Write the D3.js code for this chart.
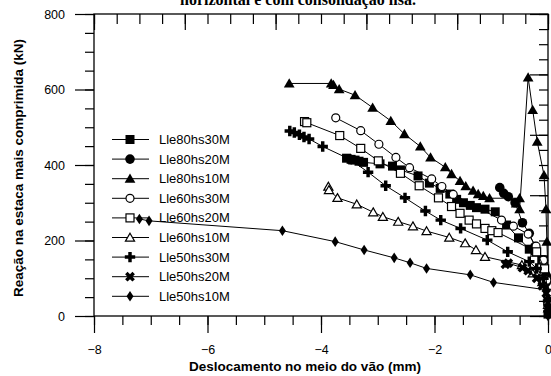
<!DOCTYPE html>
<html>
<head>
<meta charset="utf-8">
<script src="https://cdn.jsdelivr.net/npm/d3@7"></script>
<style>
  body { margin: 0; background: #fff; }
  text { font-family: "Liberation Sans", Arial, sans-serif; }
</style>
</head>
<body>
<div id="chart"></div>
<script>
// values: [deslocamento (mm), reação (kN)]
const lle80hs30M = [[-3.55,418],[-3.47,415],[-3.40,413],[-3.33,410],[-3.25,407],[-2.96,403],[-2.74,397],[-2.60,387],
  [-2.29,371],[-2.09,352],[-1.90,338],[-1.73,323],[-1.61,309],[-1.49,300],[-1.37,293],[-1.26,287],[-1.11,283],
  [-0.93,276],[-0.73,241],[-0.52,207],[-0.33,177],[-0.23,173],[-0.11,148],[-0.04,100],[0,40],[0,5]];
const lle80hs20M = [[-0.85,340],[-0.78,325],[-0.70,316],[-0.58,300],[-0.45,247],[-0.33,219],[-0.23,184],[-0.08,148],
  [-0.03,90],[0,30]];
const lle80hs10M = [[-4.56,616],[-3.82,616],[-3.78,612],[-3.68,601],[-3.40,585],[-3.09,552],[-2.77,517],[-2.53,482],
  [-2.25,449],[-2.07,420],[-1.81,394],[-1.70,376],[-1.55,358],[-1.45,344],[-1.32,332],[-1.23,323],[-1.14,318],
  [-1.03,312],[-0.50,312],[-0.56,298],[-0.50,283],[-0.35,632],[-0.27,546],[-0.19,462],[-0.07,373],[-0.035,283],
  [-0.02,197],[0,110],[0,20]];
const lle60hs30M = [[-3.74,525],[-3.30,491],[-2.98,455],[-2.68,420],[-2.44,393],[-2.05,363],[-1.87,343],[-1.67,322],
  [-0.82,254],[-0.61,238],[-0.35,217],[-0.21,185],[-0.08,148],[-0.02,95],[0,35]];
const lle60hs20M = [[-4.29,515],[-4.25,512],[-3.67,478],[-3.30,444],[-2.99,411],[-2.60,378],[-2.27,345],[-1.93,313],
  [-1.70,290],[-1.55,272],[-1.39,254],[-1.26,244],[-1.11,232],[-0.99,226],[-0.88,221],[-0.20,170],[-0.06,125],[0,60]];
const lle60hs10M = [[-3.87,343],[-3.86,334],[-3.71,313],[-3.37,296],[-3.08,275],[-2.91,263],[-2.64,250],[-2.38,238],
  [-2.14,225],[-1.74,208],[-1.46,193],[-1.27,175],[-1.11,157],[-0.46,135],[-0.27,113],[-0.10,90],[0,30]];
const lle50hs30M = [[-4.55,490],[-4.47,486],[-4.38,480],[-4.30,474],[-4.21,469],[-3.97,449],[-3.49,415],[-3.17,381],
  [-2.86,345],[-2.52,313],[-2.16,278],[-1.89,254],[-1.54,232],[-1.07,201],[-0.71,170],[-0.33,144],[-0.20,126],
  [-0.08,100],[0,40]];
const lle50hs20M = [[-0.75,137],[-0.70,140],[-0.45,128],[-0.35,120],[-0.20,100],[-0.10,80],[-0.03,60],[0,20]];
const lle50hs10M = [[-7.20,257],[-7.03,252],[-4.68,226],[-3.75,197],[-3.24,175],[-2.71,154],[-2.43,141],[-2.14,126],
  [-1.37,109],[-0.96,89],[-0.02,69],[0,30],[0,0]];

const seriesNames = ["Lle80hs30M","Lle80hs20M","Lle80hs10M","Lle60hs30M","Lle60hs20M","Lle60hs10M","Lle50hs30M","Lle50hs20M","Lle50hs10M"];
const seriesData = [lle80hs30M, lle80hs20M, lle80hs10M, lle60hs30M, lle60hs20M, lle60hs10M, lle50hs30M, lle50hs20M, lle50hs10M];
const seriesMarks = ["square","circle","triangle","circleOpen","squareOpen","triangleOpen","plus","cross","diamond"];

const xMajor = [-8, -6, -4, -2, 0];
const yMajor = [0, 200, 400, 600, 800];

const W = 551, H = 376;
const svg = d3.select("#chart").append("svg").attr("width", W).attr("height", H);

const x = d3.scaleLinear().domain([-8, 0]).range([94, 548]);
const y = d3.scaleLinear().domain([0, 800]).range([316, 14]);

// cut-off title at the very top
svg.append("text").attr("x", 298).attr("y", 5).attr("text-anchor", "middle")
  .style("font-family", "'Liberation Serif', 'Times New Roman', serif")
  .style("font-weight", "bold").style("font-size", "16px")
  .text("horizontal e com consolidação lisa.");

// bottom axis: labels every 2, minor every 0.5
svg.append("g").attr("transform", "translate(0,316)")
  .call(d3.axisBottom(x).tickValues(d3.range(-8, 0.01, 0.5)).tickSize(9).tickFormat(""))
  .call(g => g.select(".domain").remove());
svg.append("g").attr("transform", "translate(0,316)")
  .call(d3.axisBottom(x).tickValues(xMajor).tickSize(17).tickPadding(12).tickFormat(d3.format("d")))
  .call(g => g.select(".domain").remove())
  .call(g => g.selectAll("text").style("font-size", "12.5px").attr("fill", "#000"));

// left axis: labels every 200, minor every 50
svg.append("g").attr("transform", "translate(94,0)")
  .call(d3.axisLeft(y).tickValues(d3.range(0, 801, 50)).tickSize(9).tickFormat(""))
  .call(g => g.select(".domain").remove());
svg.append("g").attr("transform", "translate(94,0)")
  .call(d3.axisLeft(y).tickValues(yMajor).tickSize(19).tickPadding(10).tickFormat(d3.format("d")))
  .call(g => g.select(".domain").remove())
  .call(g => g.selectAll("text").style("font-size", "12.5px").attr("fill", "#000"));

// top axis: inward ticks, 0.4 minor, 1.6 major
svg.append("g").attr("transform", "translate(0,14)")
  .call(d3.axisBottom(x).tickValues(d3.range(-8, 0.01, 0.4)).tickSize(10).tickFormat(""))
  .call(g => g.select(".domain").remove());
svg.append("g").attr("transform", "translate(0,14)")
  .call(d3.axisBottom(x).tickValues(d3.range(-8, 0.01, 1.6)).tickSize(16).tickFormat(""))
  .call(g => g.select(".domain").remove());

// right axis: inward ticks, 40 minor, 160 major
svg.append("g").attr("transform", "translate(548,0)")
  .call(d3.axisLeft(y).tickValues(d3.range(0, 801, 40)).tickSize(9).tickFormat(""))
  .call(g => g.select(".domain").remove());
svg.append("g").attr("transform", "translate(548,0)")
  .call(d3.axisLeft(y).tickValues(d3.range(0, 801, 160)).tickSize(18).tickFormat(""))
  .call(g => g.select(".domain").remove());

// frame
svg.append("rect").attr("x", x(-8)).attr("y", y(800))
  .attr("width", x(0) - x(-8)).attr("height", y(0) - y(800))
  .attr("fill", "none").attr("stroke", "#000").attr("stroke-width", 1.3);
svg.selectAll(".tick line").attr("stroke", "#000").attr("stroke-width", 1.2);

// axis titles
svg.append("text").attr("x", 305).attr("y", 371).attr("text-anchor", "middle")
  .style("font-weight", "bold").style("font-size", "13.5px")
  .text("Deslocamento no meio do vão (mm)");
svg.append("text").attr("transform", "translate(23,168) rotate(-90)").attr("text-anchor", "middle")
  .style("font-weight", "bold").style("font-size", "13.5px")
  .text("Reação na estaca mais comprimida (kN)");

// marker drawing
function drawMark(g, type, cx, cy) {
  if (type === "square") {
    g.append("rect").attr("x", cx - 4.5).attr("y", cy - 4.5).attr("width", 9).attr("height", 9).attr("fill", "#000");
  } else if (type === "squareOpen") {
    g.append("rect").attr("x", cx - 4).attr("y", cy - 4).attr("width", 8).attr("height", 8)
      .attr("fill", "#fff").attr("stroke", "#000").attr("stroke-width", 1.2);
  } else if (type === "circle") {
    g.append("circle").attr("cx", cx).attr("cy", cy).attr("r", 4.8).attr("fill", "#000");
  } else if (type === "circleOpen") {
    g.append("circle").attr("cx", cx).attr("cy", cy).attr("r", 4).attr("fill", "#fff")
      .attr("stroke", "#000").attr("stroke-width", 1.2);
  } else if (type === "triangle") {
    g.append("path").attr("d", d3.symbol(d3.symbolTriangle, 50)).attr("transform", `translate(${cx},${cy + 1})`).attr("fill", "#000");
  } else if (type === "triangleOpen") {
    g.append("path").attr("d", d3.symbol(d3.symbolTriangle, 36)).attr("transform", `translate(${cx},${cy + 1})`)
      .attr("fill", "#fff").attr("stroke", "#000").attr("stroke-width", 1.2);
  } else if (type === "plus") {
    g.append("path").attr("d", d3.symbol(d3.symbolCross, 60)).attr("transform", `translate(${cx},${cy})`).attr("fill", "#000");
  } else if (type === "cross") {
    g.append("path").attr("d", d3.symbol(d3.symbolCross, 60)).attr("transform", `translate(${cx},${cy}) rotate(45)`).attr("fill", "#000");
  } else if (type === "diamond") {
    g.append("path").attr("d", d3.symbol(d3.symbolDiamond, 32)).attr("transform", `translate(${cx},${cy}) scale(1.15,1)`)
      .attr("fill", "#000");
  }
}

const line = d3.line().x(d => x(d[0])).y(d => y(d[1]));

// legend
const legY0 = 139.5, legStep = 19.6;
seriesNames.forEach((name, i) => {
  const g = svg.append("g");
  const ly = legY0 + i * legStep;
  g.append("line").attr("x1", 112).attr("x2", 149).attr("y1", ly).attr("y2", ly)
    .attr("stroke", "#000").attr("stroke-width", 1);
  drawMark(g, seriesMarks[i], 130, ly);
  g.append("text").attr("x", 159).attr("y", ly + 4.5).style("font-size", "13px").text(name);
});

// series
seriesData.forEach((data, i) => {
  const g = svg.append("g");
  g.append("path").datum(data).attr("d", line).attr("fill", "none").attr("stroke", "#000").attr("stroke-width", 1);
  data.forEach(d => drawMark(g, seriesMarks[i], x(d[0]), y(d[1])));
});
</script>
</body>
</html>
